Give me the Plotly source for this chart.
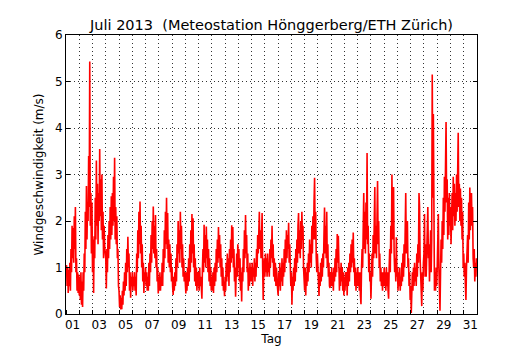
import numpy as np
import plotly.graph_objects as go

# Hourly wind speed (m/s), July 2013, one list of 24 values per day
day01 = [0.9,1.05,0.6,1.0,0.45,0.95,0.6,1.1,0.5,1.4,0.9,1.9,1.2,1.85,1.1,2.1,1.4,2.3,0.9,1.2,0.5,0.9,0.45,0.85]
day02 = [0.4,0.8,0.3,0.9,0.2,0.7,0.15,0.9,0.5,1.3,0.9,2.2,1.4,2.75,1.6,2.4,2.0,3.4,2.3,5.43,1.9,2.6,1.3,2.4]
day03 = [0.9,1.6,0.45,1.67,1.2,2.5,1.6,3.3,1.9,2.8,1.5,2.6,2.0,3.55,2.1,2.9,1.8,3.0,1.6,2.2,1.2,1.9,1.45,1.3]
day04 = [1.2,0.55,1.4,0.9,1.7,1.2,2.0,1.4,2.3,1.6,2.53,1.7,2.6,1.9,2.95,2.0,3.36,1.6,2.3,1.5,2.1,1.2,1.4,0.6]
day05 = [0.5,0.15,0.4,0.1,0.35,0.1,0.5,0.2,0.7,0.4,0.9,0.5,1.1,0.6,1.4,0.9,1.66,1.0,1.3,0.5,0.9,0.35,0.8,0.6]
day06 = [0.9,0.5,0.8,0.6,0.9,0.5,0.8,0.4,1.3,0.9,1.8,1.2,2.2,1.5,2.42,1.3,1.9,1.0,1.5,0.7,1.1,0.45,0.9,0.7]
day07 = [1.0,0.6,0.9,0.5,0.8,0.5,1.1,0.6,1.3,0.9,1.7,1.1,2.0,1.4,2.31,1.3,1.9,1.2,2.13,1.0,1.4,0.7,1.0,0.44]
day08 = [0.8,0.5,0.9,0.5,0.8,0.6,1.1,0.6,1.4,0.9,1.8,1.2,2.2,1.5,2.5,1.4,2.17,1.1,1.6,1.0,1.5,0.9,1.3,0.7]
day09 = [1.0,0.6,0.41,0.8,0.5,0.9,0.6,1.2,0.7,1.5,1.0,2.0,1.3,1.8,1.1,2.2,1.4,1.9,1.0,1.5,0.8,1.2,0.7,0.9]
day10 = [0.6,0.44,0.9,0.5,1.0,0.6,1.2,0.7,1.5,0.9,1.8,1.1,2.15,1.3,2.06,1.0,1.5,0.7,1.2,0.6,1.0,0.5,0.9,0.6]
day11 = [0.9,0.5,1.0,0.6,0.8,0.5,0.33,1.0,1.4,0.9,1.92,1.1,1.7,1.0,1.88,1.2,1.6,0.9,1.4,0.7,1.2,0.6,1.0,0.5]
day12 = [0.8,0.5,0.9,0.45,1.0,0.6,1.1,0.7,1.4,0.9,1.6,1.1,1.87,1.2,1.7,1.0,1.5,0.8,1.2,0.6,1.0,0.5,0.7,0.38]
day13 = [0.8,0.5,1.1,0.7,1.3,0.8,1.2,0.6,1.4,0.9,1.6,1.1,1.91,1.2,1.87,1.0,1.4,0.7,1.0,0.37,0.9,1.3,0.8,1.5]
day14 = [1.0,1.4,0.7,1.2,0.5,0.9,0.27,1.0,0.7,1.4,0.9,1.8,1.2,2.13,1.3,1.7,0.9,1.3,0.5,1.0,0.6,1.1,0.7,1.0]
day15 = [0.7,1.1,0.6,1.0,0.8,1.2,0.7,1.1,0.8,1.4,1.0,1.7,1.3,2.0,2.2,1.4,1.8,1.2,1.9,2.17,1.0,0.3,0.9,1.2]
day16 = [0.8,1.3,0.9,1.2,0.8,1.3,0.9,1.1,0.8,1.4,1.0,1.6,1.2,1.9,1.1,1.5,0.8,1.2,0.7,1.1,0.6,1.0,0.7,0.5]
day17 = [0.4,0.9,0.6,1.1,0.5,1.0,0.7,1.2,0.6,1.1,0.8,1.4,0.9,1.6,1.1,1.8,1.2,1.7,1.4,1.96,1.1,1.5,0.8,0.6]
day18 = [0.9,0.2,0.8,0.5,1.0,0.6,1.2,0.7,1.4,0.9,1.6,1.1,1.9,2.17,1.3,1.8,1.2,2.0,1.4,2.2,1.6,1.9,1.0,0.7]
day19 = [0.5,1.0,0.4,0.9,0.6,1.1,0.7,1.3,0.9,1.6,1.1,1.5,1.0,1.9,1.3,2.1,1.6,2.4,2.93,1.6,2.2,1.2,0.9,1.3]
day20 = [0.9,0.6,0.39,0.9,0.6,1.1,0.7,1.2,0.8,1.3,1.0,1.7,2.29,1.3,1.9,1.2,2.2,1.0,1.5,0.8,1.1,0.6,0.56,0.9]
day21 = [0.6,1.0,0.6,0.9,0.5,1.0,0.7,1.2,0.8,1.4,0.9,1.72,1.1,1.68,0.8,0.5,1.0,0.6,1.1,0.7,1.0,0.5,0.9,0.4]
day22 = [0.8,0.5,0.9,0.6,0.9,0.4,1.0,0.6,1.1,0.7,1.3,0.9,1.5,1.0,1.6,1.1,1.75,0.9,1.2,0.6,1.0,0.5,0.9,0.6]
day23 = [1.0,0.6,0.9,0.5,0.9,0.4,0.21,1.0,1.4,1.0,2.1,2.6,1.4,2.2,1.3,2.4,1.6,3.46,1.5,1.9,0.9,1.3,0.7,0.9]
day24 = [0.33,1.0,1.3,0.8,1.7,1.2,2.0,2.73,1.3,1.9,1.2,2.3,2.86,1.5,2.0,1.0,1.3,0.7,1.0,0.6,0.9,0.5,0.9,0.6]
day25 = [1.0,0.6,0.9,0.5,1.0,0.6,0.9,0.5,0.33,1.0,1.4,0.9,1.9,1.3,3.0,1.6,2.5,2.73,1.3,0.9,1.2,0.7,1.65,0.8]
day26 = [1.0,0.5,0.9,0.6,1.0,0.5,0.8,0.6,1.1,0.7,1.3,0.8,1.5,1.0,1.9,2.6,1.3,1.6,2.0,1.0,1.2,0.6,0.9,0.3]
day27 = [0.6,0.02,0.7,0.9,0.5,1.0,0.6,1.1,0.7,1.0,0.6,1.3,0.8,1.5,1.1,2.6,2.3,1.2,0.9,0.5,0.17,0.9,0.5,1.1]
day28 = [1.3,2.15,0.8,1.5,0.8,1.3,1.7,2.3,1.2,1.5,0.7,1.3,1.8,0.9,1.6,5.15,2.5,4.3,1.1,0.5,0.9,0.5,1.0,0.6]
day29 = [1.0,1.4,2.15,1.0,0.6,0.07,0.9,1.6,1.1,2.0,1.4,2.5,1.7,2.95,2.2,3.4,4.13,2.4,2.9,1.6,2.5,1.7,2.6,1.9]
day30 = [2.3,1.5,2.2,2.6,1.8,2.95,2.1,2.8,1.9,2.6,2.0,3.0,2.2,3.5,3.9,2.3,2.8,2.0,2.7,1.9,2.5,1.6,2.2,1.0]
day31 = [1.3,0.8,1.1,0.6,0.3,1.0,1.3,1.7,1.1,2.4,1.6,2.72,1.8,2.5,2.6,1.9,2.3,1.2,1.0,1.4,0.7,1.1,0.8,1.2]

days = [day01, day02, day03, day04, day05, day06, day07, day08, day09, day10,
        day11, day12, day13, day14, day15, day16, day17, day18, day19, day20,
        day21, day22, day23, day24, day25, day26, day27, day28, day29, day30, day31]

tick_labels = ["01", "03", "05", "07", "09", "11", "13", "15",
               "17", "19", "21", "23", "25", "27", "29", "31"]
y_ticks = [0, 1, 2, 3, 4, 5, 6]

# time axis: days since 1 July 00:00, each day's samples evenly spread over that day
t_days = np.concatenate([i + np.arange(len(d)) / len(d) for i, d in enumerate(days)])
speed = np.concatenate([np.array(d, dtype=float) for d in days])

label_pos = [int(s) - 0.5 for s in tick_labels]  # centred on each labelled day

FONT = "DejaVu Sans"
GRID_DASH = "1px,3px"

fig = go.Figure()
fig.add_trace(go.Scatter(x=t_days, y=speed, mode="lines",
                         line=dict(color="red", width=1.6), hoverinfo="skip"))

fig.update_layout(
    width=530, height=350,
    margin=dict(l=66, r=53, t=35, b=36),
    paper_bgcolor="white", plot_bgcolor="white",
    showlegend=False,
    font=dict(family=FONT, size=12, color="black"),
    title=dict(text="Juli 2013  (Meteostation Hönggerberg/ETH Zürich)",
               font=dict(family=FONT, size=14.5, color="black"),
               x=0.5, xref="paper", xanchor="center",
               y=1, yref="paper", yanchor="bottom", pad=dict(b=5)),
)

fig.update_xaxes(
    range=[0, 31], tickmode="array", tickvals=label_pos, ticktext=tick_labels,
    ticks="", showgrid=False, zeroline=False, automargin=False,
    showline=True, linecolor="black", linewidth=1, mirror=True,
    tickfont=dict(family=FONT, size=12, color="black"),
    title=dict(text="Tag", font=dict(family=FONT, size=12, color="black"), standoff=2),
    minor=dict(tick0=0, dtick=1, ticks="inside", ticklen=4, tickcolor="black",
               showgrid=True, gridcolor="#333333", griddash=GRID_DASH, gridwidth=1),
)
fig.update_yaxes(
    range=[0, 6], tickmode="array", tickvals=y_ticks,
    ticks="inside", ticklen=4, tickcolor="black", automargin=False,
    showgrid=True, gridcolor="#333333", griddash=GRID_DASH, gridwidth=1, zeroline=False,
    showline=True, linecolor="black", linewidth=1, mirror="ticks",
    tickfont=dict(family=FONT, size=12, color="black"),
    title=dict(text="Windgeschwindigkeit (m/s)", font=dict(family=FONT, size=12, color="black"), standoff=8),
)

fig.write_html("out.html", config={"displayModeBar": False},
               post_script="document.body.style.margin='0';")
